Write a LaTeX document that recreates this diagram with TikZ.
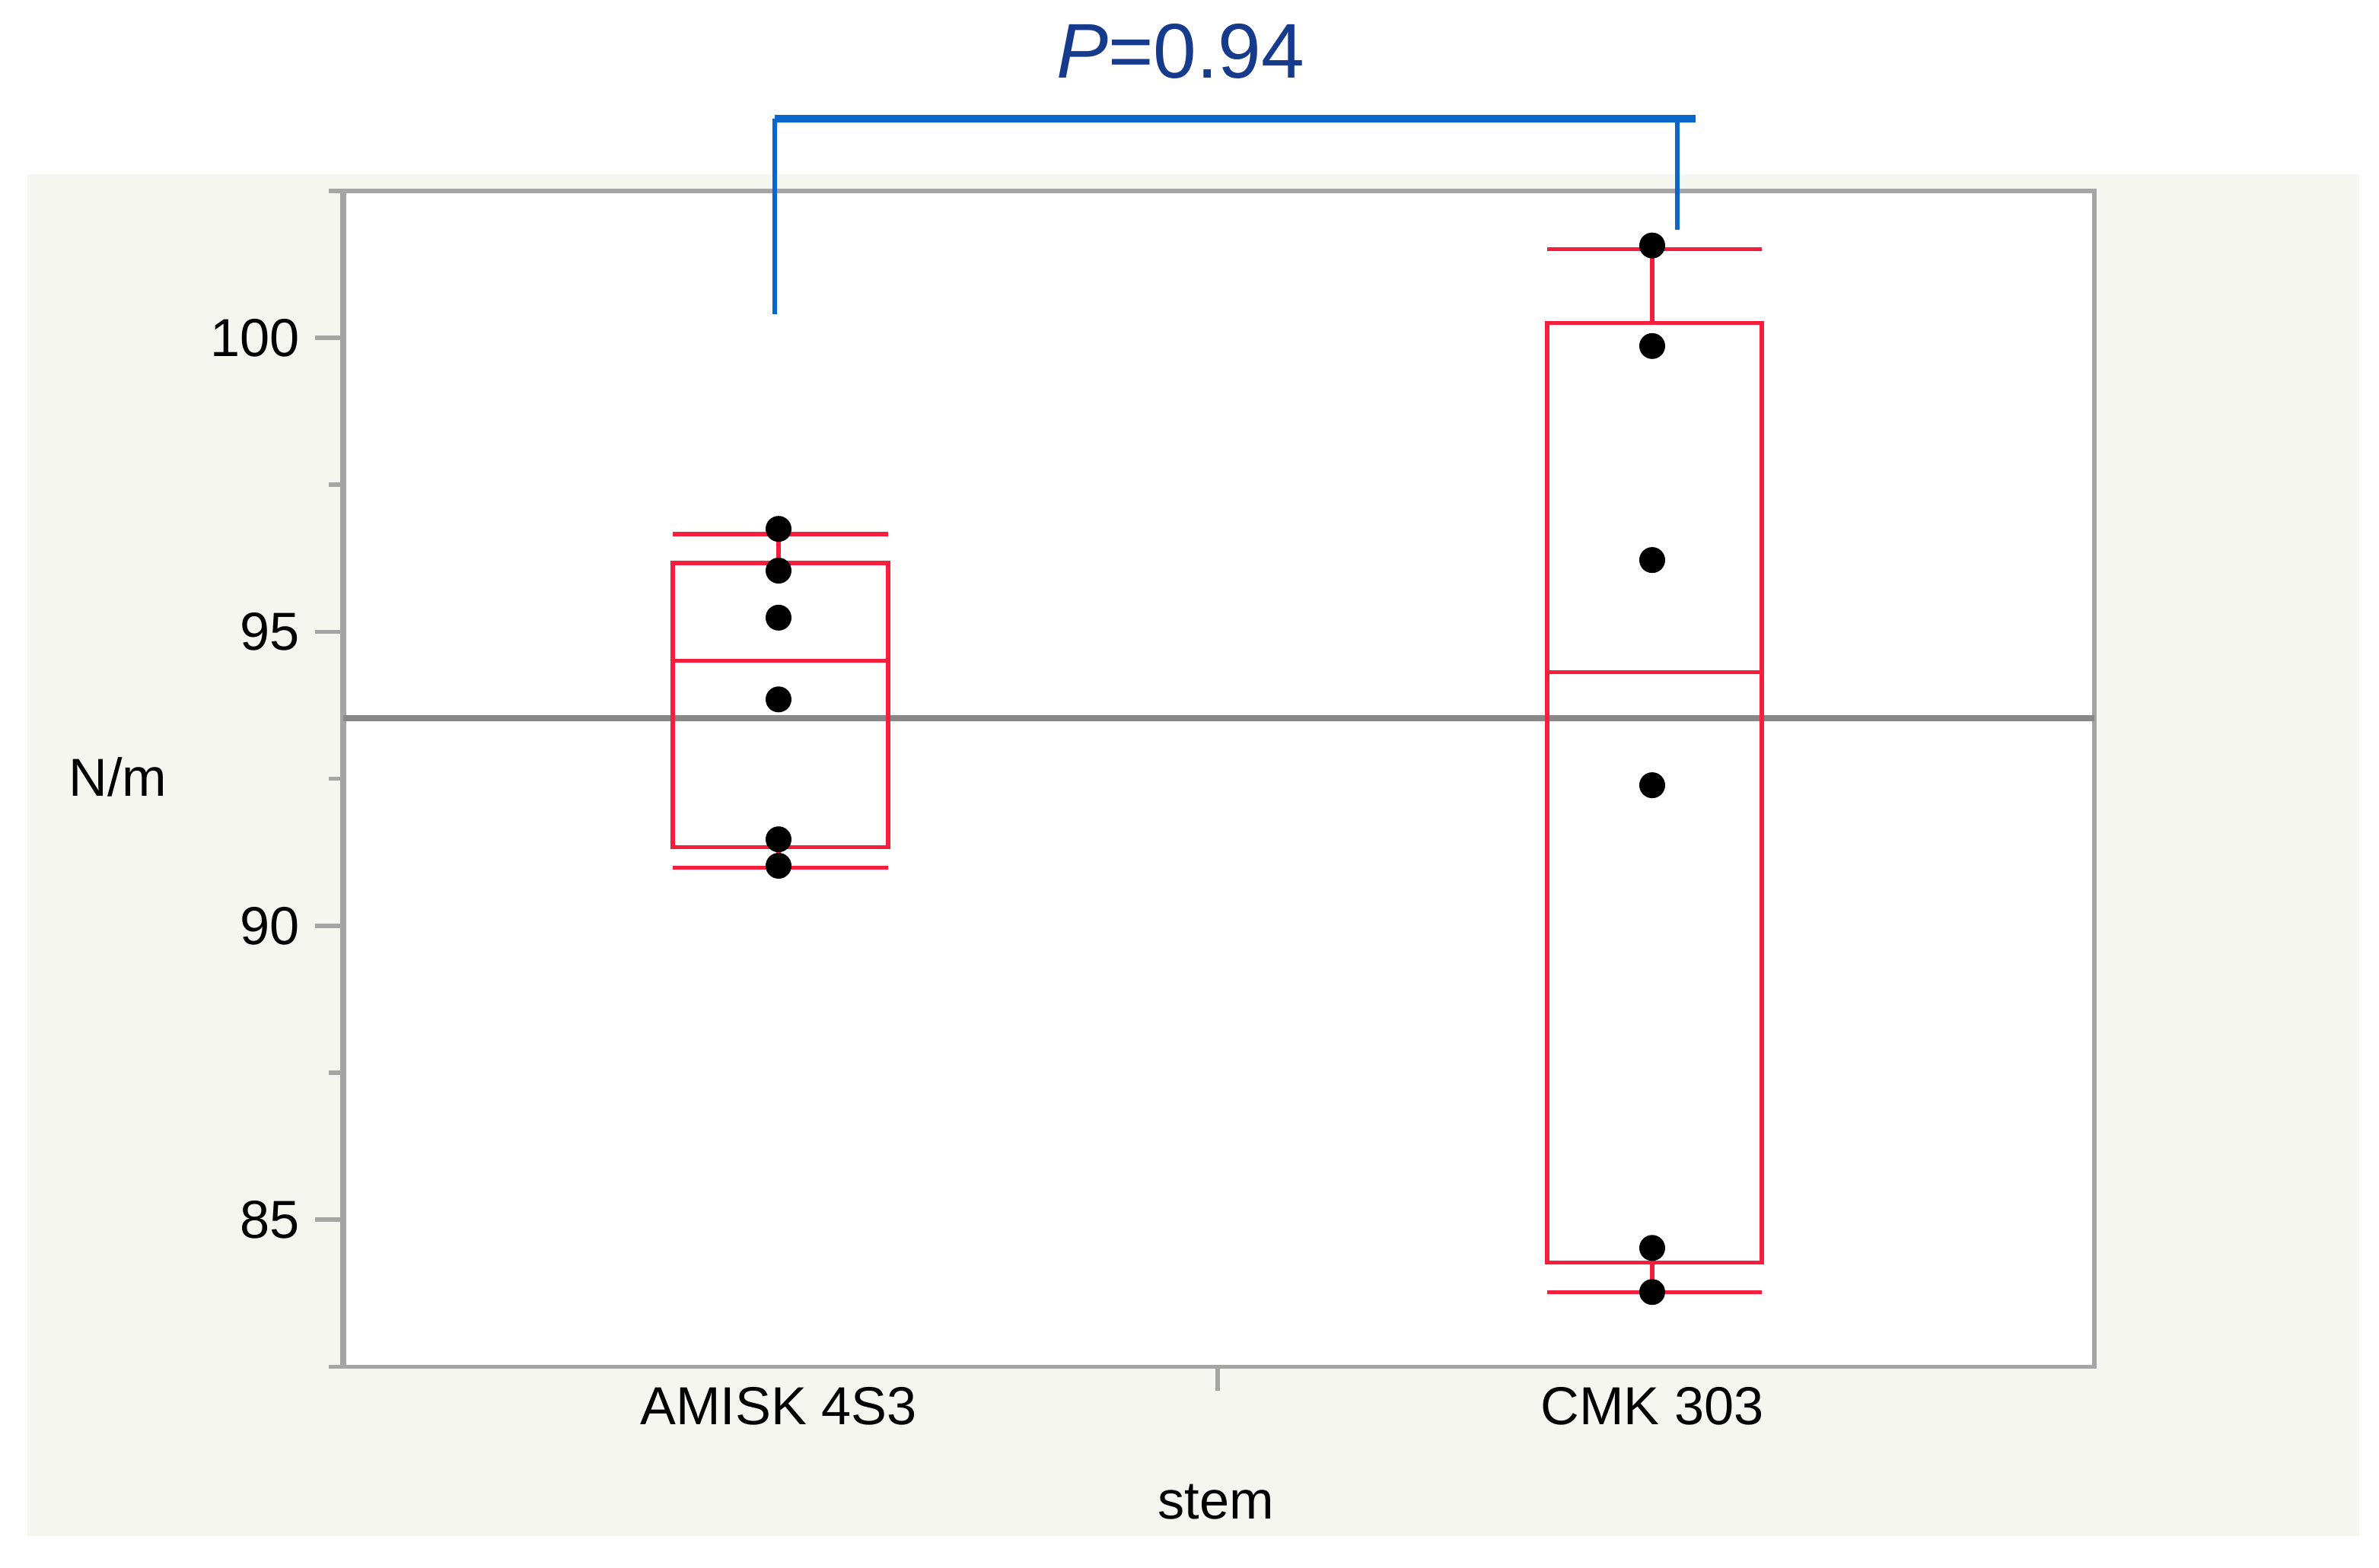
\documentclass[tikz,border=0pt]{standalone}
\usepackage{fontspec}
\setmainfont{Liberation Sans}
\usetikzlibrary{positioning}
\definecolor{panel}{RGB}{246,246,241}
\definecolor{framegray}{RGB}{165,165,165}
\definecolor{meangray}{RGB}{135,135,135}
\definecolor{boxred}{RGB}{245,30,60}
\definecolor{bracketblue}{RGB}{10,102,200}
\definecolor{pblue}{RGB}{22,58,140}
\tikzset{
	dot/.style={
		circle,
		fill=black,
		inner sep=0pt,
		minimum size=0.17cm,
	},
	frame/.style={
		draw=framegray,
		line width=0.8pt,
	},
	meanline/.style={
		draw=meangray,
		line width=1pt,
	},
	boxplot/.style={
		draw=boxred,
		line width=0.75pt,
	},
	bracket/.style={
		draw=bracketblue,
		line width=0.8pt,
	},
	label/.style={
		font=\fontsize{10}{12}\selectfont,
		inner sep=0pt,
	},
	ptext/.style={
		font=\fontsize{14.5}{17}\selectfont,
		text=pblue,
		inner sep=0pt,
	},
}

\begin{document}
\begin{tikzpicture}
		\newcommand{\xa}{5.115}
		\newcommand{\xc}{10.855}
		\useasboundingbox (0,0) rectangle (15.63,10.305);

		% grey panel
		\fill[panel] (0.18,0.21) rectangle (15.50,9.158);

		\begin{scope}[shift={(0cm,-30.555cm)}, y=0.3864cm]
			% frame and axis
			\draw[frame, fill=white] (2.255,82.5) rectangle (13.76,102.5);
			\draw[frame, line width=1.2pt] (2.255,82.5) -- (2.255,102.5);
			\foreach \v in {85,90,95,100} {
				\draw[frame] (2.07,\v) -- (2.255,\v);
				\node[label, anchor=east] (tick\v) at (1.975,\v) {\v};
			}
			\foreach \v in {82.5,87.5,92.5,97.5,102.5}
				\draw[frame] (2.16,\v) -- (2.255,\v);

			% mean line
			\draw[meanline] (2.255,93.53) -- (13.76,93.53);

			% AMISK 4S3 box
			\draw[boxplot] (4.42,91.34) rectangle (5.835,96.17);
			\draw[boxplot] (4.42,94.51) -- (5.835,94.51);
			\draw[boxplot] (4.42,96.66) -- (5.835,96.66);
			\draw[boxplot] (4.42,90.99) -- (5.835,90.99);
			\draw[boxplot] (\xa,96.17) -- (\xa,96.66);
			\draw[boxplot] (\xa,91.34) -- (\xa,90.99);

			% CMK 303 box
			\draw[boxplot] (10.165,84.27) rectangle (11.575,100.25);
			\draw[boxplot] (10.165,94.31) -- (11.575,94.31);
			\draw[boxplot] (10.165,101.51) -- (11.575,101.51);
			\draw[boxplot] (10.165,83.77) -- (11.575,83.77);
			\draw[boxplot] (\xc,100.25) -- (\xc,101.51);
			\draw[boxplot] (\xc,84.27) -- (\xc,83.77);

			% AMISK 4S3 points
			\node[dot] (a1) at (\xa,96.75) {};
			\node[dot] (a2) at (\xa,96.04) {};
			\node[dot] (a3) at (\xa,95.24) {};
			\node[dot] (a4) at (\xa,93.85) {};
			\node[dot] (a5) at (\xa,91.47) {};
			\node[dot] (a6) at (\xa,91.02) {};

			% CMK 303 points
			\node[dot] (c1) at (\xc,101.57) {};
			\node[dot] (c2) at (\xc,99.86) {};
			\node[dot] (c3) at (\xc,96.22) {};
			\node[dot] (c4) at (\xc,92.39) {};
			\node[dot] (c5) at (\xc,84.52) {};
			\node[dot] (c6) at (\xc,83.77) {};

			% comparison bracket
			\coordinate (bl) at (5.09,100.40);
			\coordinate (br) at (11.02,101.84);
			\coordinate (btop) at (11.14,103.73);
			\draw[bracket] (bl) -- (bl |- btop);
			\draw[bracket] (br) -- (br |- btop);
			\draw[bracket, line width=1.4pt] (bl |- btop) -- (btop);
		\end{scope}

		% x tick
		\draw[frame] (8.00,1.323) -- (8.00,1.165);

		% labels
		\node[ptext] (pval) at (7.755,9.97) {\textit{P}=0.94};
		\node[label] (amisk) at (\xa,1.065) {AMISK 4S3};
		\node[label] (cmk) at (\xc,1.065) {CMK 303};
		\node[label] (stem) at (7.99,0.435) {stem};
		\node[label] (unit) at (0.775,5.20) {N/m};

	\end{tikzpicture}
\end{document}
